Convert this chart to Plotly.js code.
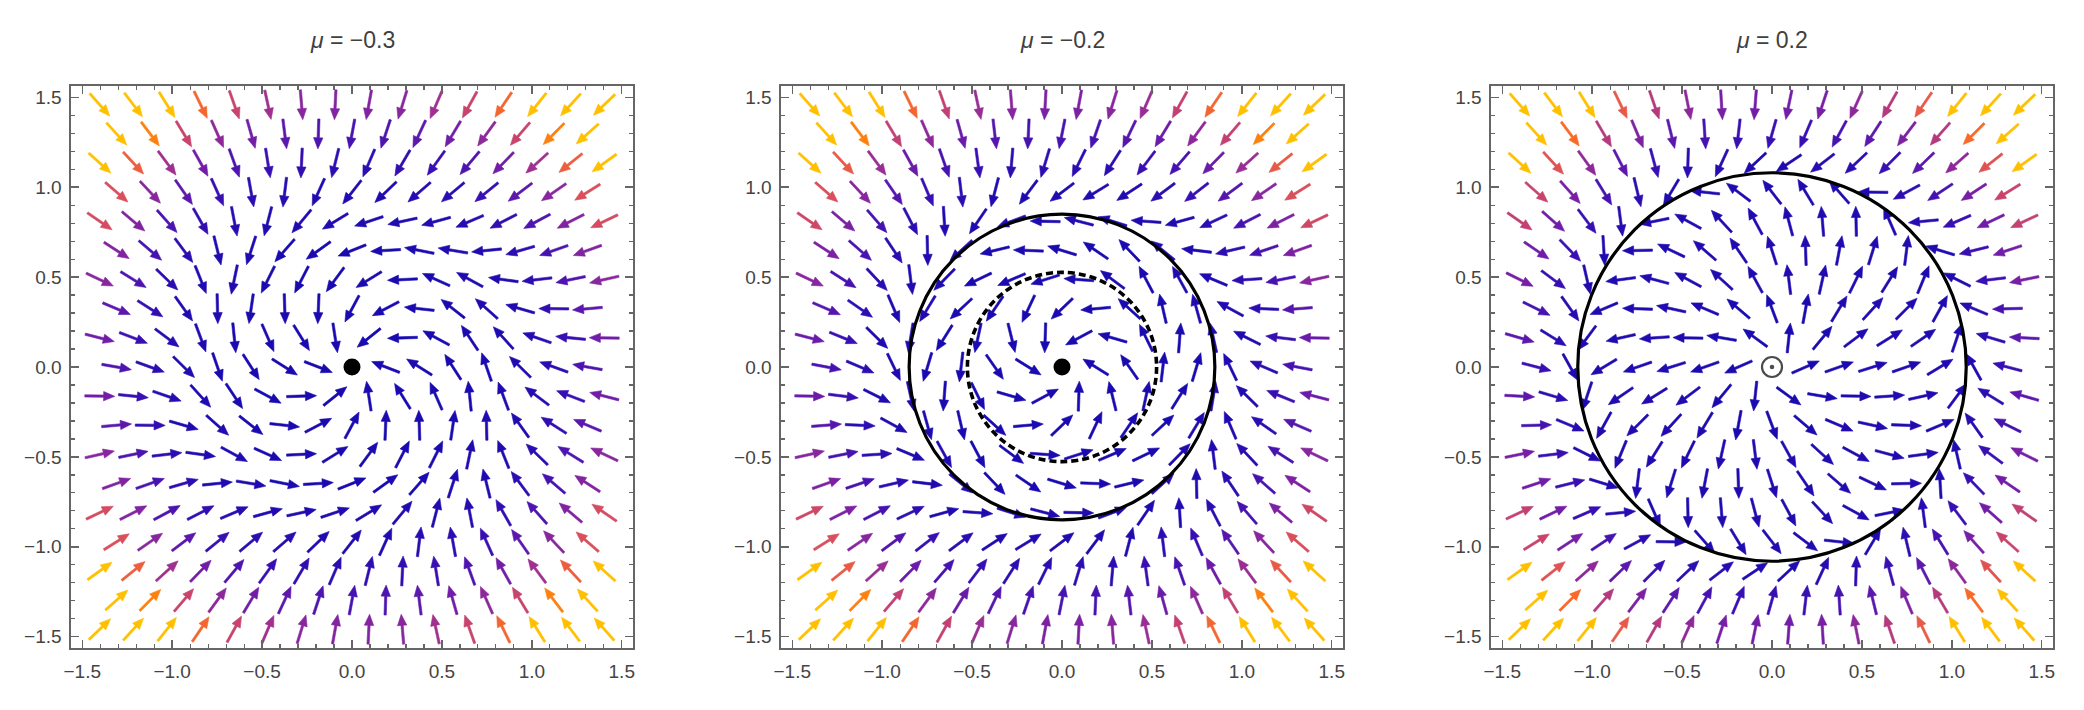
<!DOCTYPE html>
<html><head><meta charset="utf-8">
<script src="https://cdn.plot.ly/plotly-3.0.1.min.js"></script>
<style>html,body{margin:0;padding:0;background:#fff}#chart{width:2084px;height:710px}</style>
</head><body><div id="chart"></div>
<script>
// ---------------- data ----------------
// System drawn in each panel (subcritical Hopf normal form):
//   r' = mu*r + r^3 - r^5 ,  theta' = omega + rotB*r^2
const muValues      = [-0.3, -0.2, 0.2];
const panelTitles   = ['<i>μ</i> = −0.3', '<i>μ</i> = −0.2', '<i>μ</i> = 0.2'];
const omegaValue    = [0.1];
const rotBValue     = [0.1];
const stableCycleR  = [null, 0.85, 1.08];    // solid circles
const unstableCycleR= [null, 0.526, null];   // dashed circle
const originStable  = [true, true, false];   // filled dot vs open dot
const tickVals      = [-1.5, -1.0, -0.5, 0.0, 0.5, 1.0, 1.5];
const tickText      = ['−1.5', '−1.0', '−0.5', '0.0', '0.5', '1.0', '1.5'];
// hexagonal sampling grid of the vector plot
const gridStepX = [0.187];
const gridStepY = [0.162];
const gridHalfRows = [9];
const colorNormMax = [12];   // |v| that maps to the top colour
const colorStopsT   = [0, 0.12, 0.27, 0.42, 0.56, 0.68, 0.8, 0.9, 1];
const colorStopsRGB = [[26,10,176],[60,16,178],[112,28,168],[150,44,150],[196,66,112],[228,86,80],[250,108,34],[255,150,0],[255,192,0]];

// ---------------- helpers ----------------
function field(mu, x, y) {
  const r2 = x * x + y * y;
  const g = mu + r2 - r2 * r2;
  const w = omegaValue[0] + rotBValue[0] * r2;
  return [x * g - y * w, y * g + x * w];
}
function colorAt(t) {
  for (let i = 1; i < colorStopsT.length; i++) {
    if (t <= colorStopsT[i]) {
      const f = (t - colorStopsT[i - 1]) / (colorStopsT[i] - colorStopsT[i - 1]);
      const a = colorStopsRGB[i - 1], b = colorStopsRGB[i];
      return 'rgb(' + [0, 1, 2].map(k => Math.round(a[k] + f * (b[k] - a[k]))).join(',') + ')';
    }
  }
  const c = colorStopsRGB[colorStopsRGB.length - 1];
  return 'rgb(' + c.join(',') + ')';
}

const ARROW_LEN = 0.1667, HEAD_LEN = 0.062, HEAD_HALF = 0.026, SHAFT_HALF = 0.0064;
const NBINS = 48;
const RANGE = [-1.5625, 1.5625];
const domainsX = [[71 / 2084, 633 / 2084], [781 / 2084, 1343 / 2084], [1491 / 2084, 2053 / 2084]];
const domainY = [(710 - 648) / 710, (710 - 86) / 710];

const traces = [];
const shapes = [];
const annotations = [];
const layout = {
  width: 2084, height: 710,
  margin: {l: 0, r: 0, t: 0, b: 0},
  paper_bgcolor: '#fff', plot_bgcolor: '#fff',
  showlegend: false,
  font: {family: 'Liberation Sans, Arial, sans-serif', color: '#444'}
};

muValues.forEach((mu, p) => {
  const xa = 'x' + (p === 0 ? '' : p + 1), ya = 'y' + (p === 0 ? '' : p + 1);
  const bins = [];
  for (let b = 0; b < NBINS; b++) bins.push({x: [], y: []});
  for (let j = -gridHalfRows[0]; j <= gridHalfRows[0]; j++) {
    const odd = Math.abs(j) % 2 === 1;
    const kMin = odd ? -8 : -7, kMax = 7;
    for (let k = kMin; k <= kMax; k++) {
      const px = (odd ? k + 0.5 : k) * gridStepX[0];
      const py = j * gridStepY[0];
      const v = field(mu, px, py);
      const mag = Math.hypot(v[0], v[1]);
      if (mag < 1e-9) continue;
      const ux = v[0] / mag, uy = v[1] / mag, nx = -uy, ny = ux;
      const tx = px - ux * ARROW_LEN / 2, ty = py - uy * ARROW_LEN / 2;
      const hx = px + ux * ARROW_LEN / 2, hy = py + uy * ARROW_LEN / 2;
      const bx = hx - ux * HEAD_LEN, by = hy - uy * HEAD_LEN;
      const pts = [
        [tx + nx * SHAFT_HALF, ty + ny * SHAFT_HALF],
        [bx + nx * SHAFT_HALF, by + ny * SHAFT_HALF],
        [bx + nx * HEAD_HALF, by + ny * HEAD_HALF],
        [hx, hy],
        [bx - nx * HEAD_HALF, by - ny * HEAD_HALF],
        [bx - nx * SHAFT_HALF, by - ny * SHAFT_HALF],
        [tx - nx * SHAFT_HALF, ty - ny * SHAFT_HALF],
        [tx + nx * SHAFT_HALF, ty + ny * SHAFT_HALF]
      ];
      const t = Math.min(mag / colorNormMax[0], 1);
      const bi = Math.round(t * (NBINS - 1));
      pts.forEach(q => { bins[bi].x.push(q[0]); bins[bi].y.push(q[1]); });
      bins[bi].x.push(null); bins[bi].y.push(null);
    }
  }
  bins.forEach((b, bi) => {
    if (!b.x.length) return;
    const c = colorAt(bi / (NBINS - 1));
    traces.push({type: 'scatter', mode: 'lines', x: b.x, y: b.y, xaxis: xa, yaxis: ya,
      fill: 'toself', fillcolor: c, line: {width: 0.6, color: c}, hoverinfo: 'skip', connectgaps: false});
  });
  if (originStable[p]) {
    traces.push({type: 'scatter', mode: 'markers', x: [0], y: [0], xaxis: xa, yaxis: ya,
      marker: {size: 17, color: '#000'}, hoverinfo: 'skip'});
  } else {
    traces.push({type: 'scatter', mode: 'markers', x: [0, 0], y: [0, 0], xaxis: xa, yaxis: ya,
      marker: {size: [20, 4.5], color: ['#fff', '#000'], line: {color: '#000', width: [2.2, 0]}}, hoverinfo: 'skip'});
  }
  if (stableCycleR[p] !== null) {
    const r = stableCycleR[p];
    shapes.push({type: 'circle', xref: xa, yref: ya, x0: -r, x1: r, y0: -r, y1: r,
      line: {color: '#000', width: 3.2}, layer: 'above'});
  }
  if (unstableCycleR[p] !== null) {
    const r = unstableCycleR[p];
    shapes.push({type: 'circle', xref: xa, yref: ya, x0: -r, x1: r, y0: -r, y1: r,
      line: {color: '#000', width: 3.6, dash: '7px,4px'}, layer: 'above'});
  }
  const axCommon = {
    range: RANGE, showgrid: false, zeroline: false, showline: true, linecolor: '#666', linewidth: 1.6,
    mirror: 'ticks', ticks: 'inside', ticklen: 8, tickwidth: 1.4, tickcolor: '#666',
    tickmode: 'array', tickvals: tickVals, ticktext: tickText,
    tickfont: {family: 'Liberation Sans, Arial, sans-serif', size: 19, color: '#444'},
    minor: {tickmode: 'linear', tick0: 0, dtick: 0.1, ticks: 'inside', ticklen: 4, tickwidth: 1.2, tickcolor: '#666'},
    fixedrange: true
  };
  layout['xaxis' + (p === 0 ? '' : p + 1)] = Object.assign({}, axCommon, {domain: domainsX[p], anchor: ya, ticklabelstandoff: 6});
  layout['yaxis' + (p === 0 ? '' : p + 1)] = Object.assign({}, axCommon, {domain: domainY, anchor: xa, ticklabelstandoff: 4});
  annotations.push({xref: xa + ' domain', yref: 'paper', x: 0.5, y: (710 - 40) / 710, xanchor: 'center', yanchor: 'middle',
    text: panelTitles[p], showarrow: false, font: {family: 'Liberation Sans, Arial, sans-serif', size: 23, color: '#404040'}});
});
layout.shapes = shapes;
layout.annotations = annotations;
Plotly.newPlot('chart', traces, layout, {staticPlot: true, displayModeBar: false});
</script>
</body></html>
